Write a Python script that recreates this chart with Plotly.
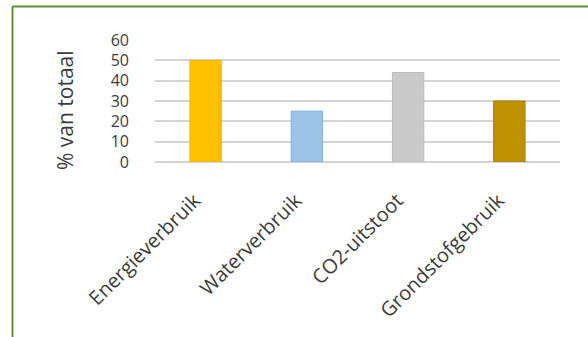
import plotly.graph_objects as go

# Share of total per environmental impact category
categories = ["Energieverbruik", "Waterverbruik", "CO2-uitstoot", "Grondstofgebruik"]
values = [50, 25, 44, 30]
bar_colors = ["#FFC000", "#9DC3E6", "#C9C9C9", "#BF9000"]
edge_colors = ["#F0B400", "#7FAEDB", "#BDBDBD", "#A87E00"]
y_ticks = [0, 10, 20, 30, 40, 50, 60]
y_title = "% van totaal"

W, H = 588, 337
ML, MR, MT, MB = 155, 28, 40, 175
text_color = "#3C3C3C"
font_family = "Open Sans, DejaVu Sans, sans-serif"

fig = go.Figure(
    go.Bar(
        x=categories,
        y=values,
        marker=dict(color=bar_colors, line=dict(color=edge_colors, width=1)),
        hoverinfo="x+y",
    )
)

# Frame lines (left and top) in pixel offsets from the plot-area origin
frame_color = "#5E8F3A"
fig.add_shape(type="line", xref="paper", yref="paper",
              xsizemode="pixel", ysizemode="pixel", xanchor=0, yanchor=1,
              x0=12.5 - ML, x1=W - ML + 5, y0=MT - 6.5, y1=MT - 6.5,
              line=dict(color=frame_color, width=2))
fig.add_shape(type="line", xref="paper", yref="paper",
              xsizemode="pixel", ysizemode="pixel", xanchor=0, yanchor=1,
              x0=12.5 - ML, x1=12.5 - ML, y0=MT - 6.5, y1=MT - H - 5,
              line=dict(color=frame_color, width=2))

# Vertical axis title, placed a little below the plot-area centre
plot_h = H - MT - MB
fig.add_annotation(
    text=y_title, textangle=-90, showarrow=False,
    xref="paper", yref="paper", x=0, y=(H - MB - 110) / plot_h,
    xanchor="center", yanchor="middle", xshift=65 - ML,
    font=dict(size=21, color=text_color),
)

fig.update_layout(
    width=W,
    height=H,
    margin=dict(l=ML, r=MR, t=MT, b=MB, autoexpand=False),
    paper_bgcolor="white",
    plot_bgcolor="white",
    bargap=0.69,
    showlegend=False,
    font=dict(family=font_family, color=text_color),
)

fig.update_xaxes(
    tickangle=-45,
    tickfont=dict(size=20, color=text_color),
    ticks="",
    ticklabelstandoff=22,
    ticklabelshift=-11,
    showline=False,
    showgrid=False,
    automargin=False,
)

fig.update_yaxes(
    range=[0, 60],
    tickvals=y_ticks,
    ticktext=[str(v) for v in y_ticks],
    tickfont=dict(size=16, color=text_color),
    ticks="",
    ticklabelstandoff=25,
    showgrid=True,
    gridcolor="#D4D4D4",
    gridwidth=1.5,
    zeroline=True,
    zerolinecolor="#D4D4D4",
    zerolinewidth=1.5,
    showline=False,
    automargin=False,
)

fig.write_html("out.html")
